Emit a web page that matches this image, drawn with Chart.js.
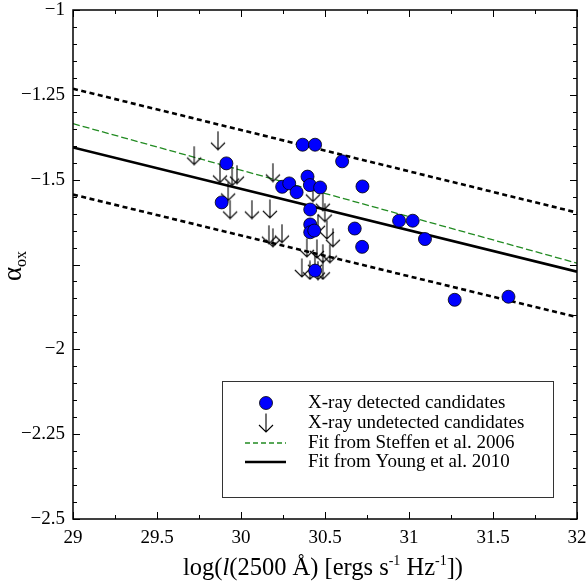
<!DOCTYPE html>
<html><head><meta charset="utf-8">
<script src="https://cdn.jsdelivr.net/npm/chart.js@4.4.1/dist/chart.umd.min.js"></script>
<style>html,body{margin:0;padding:0;background:#fff;overflow:hidden}</style>
</head><body>
<canvas id="c" width="587" height="587" style="width:587px;height:587px;display:block"></canvas>
<script>
// X-ray detected candidates: log l(2500) and alpha_ox
const detectedL = [30.367, 30.441, 30.602, 29.913, 30.396, 30.723, 30.245, 30.287, 30.331, 30.410, 30.471, 29.885,
  30.412, 30.412, 30.412, 30.436, 30.677, 30.721, 30.441, 30.941, 31.022, 31.095, 31.272, 31.592];
const detectedA = [-1.397, -1.397, -1.446, -1.452, -1.491, -1.520, -1.521, -1.511, -1.537, -1.516, -1.523, -1.567,
  -1.588, -1.632, -1.655, -1.650, -1.644, -1.698, -1.768, -1.621, -1.621, -1.675, -1.854, -1.845];
// X-ray undetected candidates (upper limits)
const undetectedL = [29.863, 29.721, 30.190, 29.875, 29.947, 29.976, 29.923, 29.935, 30.065, 30.172, 30.166, 30.190,
  30.244, 30.428, 30.487, 30.499, 30.458, 30.511, 30.547, 30.392, 30.452, 30.487, 30.529, 30.362, 30.410, 30.458,
  30.487, 30.440];
const undetectedA = [-1.385, -1.429, -1.479, -1.482, -1.491, -1.485, -1.535, -1.588, -1.588, -1.586, -1.662, -1.671,
  -1.659, -1.538, -1.565, -1.597, -1.630, -1.648, -1.671, -1.701, -1.704, -1.718, -1.718, -1.760, -1.767, -1.768,
  -1.767, -1.745];
// Fit lines
const fitX = [29, 32];
const steffenFit = [-1.335, -1.746];
const youngFit = [-1.405, -1.771];
const upperBound = [-1.232, -1.597];
const lowerBound = [-1.544, -1.905];
// Ticks
const xTicks = [29, 29.5, 30, 30.5, 31, 31.5, 32];
const xTickLabels = ['29', '29.5', '30', '30.5', '31', '31.5', '32'];
const yTicks = [-2.5, -2.25, -2, -1.75, -1.5, -1.25, -1];
const yTickLabels = ['\u22122.5', '\u22122.25', '\u22122', '', '\u22121.5', '\u22121.25', '\u22121'];
const legendLabels = ['X-ray detected candidates', 'X-ray undetected candidates', 'Fit from Steffen et al. 2006', 'Fit from Young et al. 2010'];

const SERIF = '"Liberation Serif", "DejaVu Serif", serif';

function makeArrow() {
  const c = document.createElement('canvas');
  c.width = 16; c.height = 20;
  const g = c.getContext('2d');
  g.strokeStyle = '#000'; g.lineWidth = 1.1;
  g.beginPath();
  g.moveTo(8, 0.5); g.lineTo(8, 19);
  g.moveTo(1, 12); g.lineTo(8, 19); g.lineTo(15, 12);
  g.stroke();
  return c;
}
const arrowImg = makeArrow();

const pts = (xs, ys) => xs.map((x, i) => ({x: x, y: ys[i]}));

const frame = {
  id: 'frame',
  afterDatasetsDraw(chart) {
    const ctx = chart.ctx, a = chart.chartArea;
    const xs = chart.scales.x, ys = chart.scales.y;
    ctx.save();
    ctx.strokeStyle = '#000';
    ctx.lineWidth = 1;
    ctx.beginPath();
    for (let i = 0; i <= 12; i++) {
      const v = 29 + i * 0.25;
      const p = Math.round(xs.getPixelForValue(v)) + 0.5;
      const len = (i % 2 === 0) ? 7 : 4;
      ctx.moveTo(p, a.bottom); ctx.lineTo(p, a.bottom - len);
      ctx.moveTo(p, a.top); ctx.lineTo(p, a.top + len);
    }
    for (let i = 0; i <= 30; i++) {
      const v = -2.5 + i * 0.05;
      const p = Math.round(ys.getPixelForValue(v)) + 0.5;
      const len = (i % 5 === 0) ? 7 : 4;
      ctx.moveTo(a.left, p); ctx.lineTo(a.left + len, p);
      ctx.moveTo(a.right, p); ctx.lineTo(a.right - len, p);
    }
    ctx.stroke();
    ctx.lineWidth = 1.5;
    ctx.strokeRect(a.left, a.top, a.right - a.left, a.bottom - a.top);

    // legend
    const bx = 222.5, by = 381.5, bw = 331, bh = 116;
    ctx.fillStyle = '#fff';
    ctx.fillRect(bx, by, bw, bh);
    ctx.lineWidth = 1;
    ctx.strokeStyle = '#333';
    ctx.strokeRect(bx, by, bw, bh);
    const rows = [403, 423, 443, 462];
    const mx = 266;
    ctx.beginPath();
    ctx.arc(mx, rows[0], 6.5, 0, Math.PI * 2);
    ctx.fillStyle = '#0000ff'; ctx.fill();
    ctx.lineWidth = 0.8; ctx.strokeStyle = '#000'; ctx.stroke();
    ctx.drawImage(arrowImg, mx - 8, rows[1] - 10);
    ctx.beginPath();
    ctx.setLineDash([5, 3]);
    ctx.strokeStyle = '#228b22'; ctx.lineWidth = 1.3;
    ctx.moveTo(245, rows[2]); ctx.lineTo(286, rows[2]);
    ctx.stroke();
    ctx.setLineDash([]);
    ctx.beginPath();
    ctx.strokeStyle = '#000'; ctx.lineWidth = 2.5;
    ctx.moveTo(245, rows[3]); ctx.lineTo(286, rows[3]);
    ctx.stroke();
    ctx.fillStyle = '#000';
    ctx.font = '19px ' + SERIF;
    ctx.textBaseline = 'middle';
    ctx.textAlign = 'left';
    legendLabels.forEach((t, i) => ctx.fillText(t, 308, rows[i]));

    // x title
    const big = '24.5px ' + SERIF, ital = 'italic 24.5px ' + SERIF, sup = '14px ' + SERIF;
    const segs = [
      {t: 'log(', f: big, dy: 0}, {t: 'l', f: ital, dy: 0}, {t: '(2500 \u00c5) [ergs s', f: big, dy: 0},
      {t: '-1', f: sup, dy: -10}, {t: ' Hz', f: big, dy: 0}, {t: '-1', f: sup, dy: -10}, {t: '])', f: big, dy: 0}
    ];
    let total = 0;
    segs.forEach(s => { ctx.font = s.f; s.w = ctx.measureText(s.t).width; total += s.w; });
    let x = (a.left + a.right) / 2 - total / 2 - 2;
    const base = 575;
    ctx.textBaseline = 'alphabetic';
    segs.forEach(s => { ctx.font = s.f; ctx.fillText(s.t, x, base + s.dy); x += s.w; });

    // y title
    ctx.save();
    ctx.translate(21, 266);
    ctx.rotate(-Math.PI / 2);
    ctx.font = '27px ' + SERIF;
    const wa = ctx.measureText('\u03b1').width;
    ctx.font = '16px ' + SERIF;
    const wo = ctx.measureText('ox').width;
    let sx = -(wa + wo) / 2;
    ctx.font = '27px ' + SERIF;
    ctx.fillText('\u03b1', sx, 0);
    ctx.font = '16px ' + SERIF;
    ctx.fillText('ox', sx + wa, 5);
    ctx.restore();
    ctx.restore();
  }
};

new Chart(document.getElementById('c'), {
  type: 'scatter',
  data: {
    datasets: [
      {label: legendLabels[0], data: pts(detectedL, detectedA), pointStyle: 'circle', pointRadius: 6.5,
        pointHoverRadius: 6.5, backgroundColor: '#0000ff', borderColor: '#000', borderWidth: 0.8, order: 0},
      {label: legendLabels[1], data: pts(undetectedL, undetectedA), pointStyle: arrowImg, order: 1},
      {label: legendLabels[2], data: pts(fitX, steffenFit), showLine: true, pointRadius: 0, borderColor: '#228b22',
        borderWidth: 1.3, borderDash: [7, 3], order: 2},
      {label: legendLabels[3], data: pts(fitX, youngFit), showLine: true, pointRadius: 0, borderColor: '#000',
        borderWidth: 2.6, order: 3},
      {label: 'upper', data: pts(fitX, upperBound), showLine: true, pointRadius: 0, borderColor: '#000',
        borderWidth: 2.6, borderDash: [5, 3.5], order: 4},
      {label: 'lower', data: pts(fitX, lowerBound), showLine: true, pointRadius: 0, borderColor: '#000',
        borderWidth: 2.6, borderDash: [5, 3.5], order: 5}
    ]
  },
  options: {
    responsive: false,
    animation: false,
    devicePixelRatio: 1,
    layout: {padding: {top: 10, right: 10, left: 0, bottom: 0}},
    plugins: {legend: {display: false}, tooltip: {enabled: false}},
    scales: {
      x: {
        type: 'linear', min: 29, max: 32,
        grid: {display: false, drawTicks: false},
        border: {display: false},
        afterBuildTicks: s => { s.ticks = xTicks.map(v => ({value: v})); },
        afterFit: s => { s.height = 68; s.paddingLeft = 0; s.paddingRight = 0; },
        ticks: {
          padding: 8, color: '#000', font: {family: SERIF, size: 19},
          maxRotation: 0, autoSkip: false,
          callback: v => { const i = xTicks.indexOf(v); return i >= 0 ? xTickLabels[i] : ''; }
        }
      },
      y: {
        type: 'linear', min: -2.5, max: -1,
        grid: {display: false, drawTicks: false},
        border: {display: false},
        afterBuildTicks: s => { s.ticks = yTicks.map(v => ({value: v})); },
        afterFit: s => { s.width = 73; s.paddingTop = 0; s.paddingBottom = 0; },
        ticks: {
          padding: 8, color: '#000', font: {family: SERIF, size: 19}, autoSkip: false,
          callback: v => { const i = yTicks.indexOf(v); return i >= 0 ? yTickLabels[i] : ''; }
        }
      }
    }
  },
  plugins: [frame]
});
</script>
</body></html>
